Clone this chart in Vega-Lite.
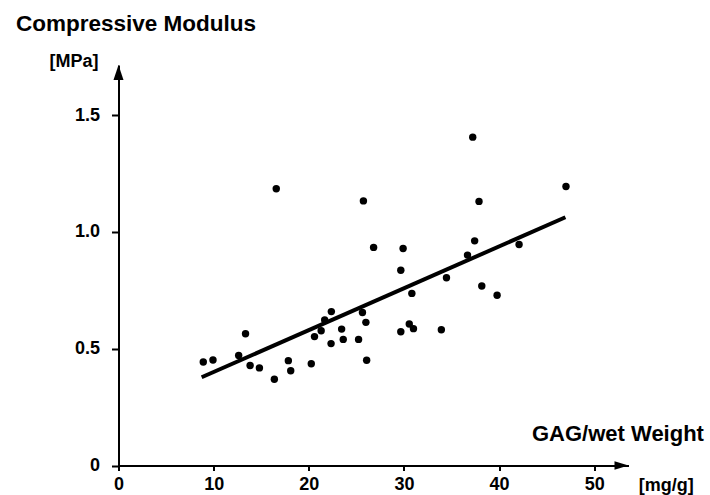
{
  "$schema": "https://vega.github.io/schema/vega-lite/v6.json",
  "width": 510,
  "height": 400.5,
  "autosize": "none",
  "padding": {"left": 118.5, "top": 65, "right": 81.5, "bottom": 29.5},
  "background": "white",
  "title": {
    "text": "Compressive Modulus",
    "anchor": "start",
    "frame": "group",
    "orient": "top",
    "offset": 0,
    "baseline": "alphabetic",
    "dx": -102.5,
    "dy": 1,
    "font": "Liberation Sans",
    "fontSize": 22.5,
    "fontWeight": "bold",
    "color": "black"
  },
  "config": {
    "view": {"stroke": null},
    "axis": {
      "grid": false,
      "domainColor": "black",
      "domainWidth": 2,
      "tickColor": "black",
      "tickWidth": 2,
      "labelFont": "Liberation Sans",
      "labelFontWeight": "bold",
      "labelColor": "black",
      "labelFontSize": 18,
      "titleFont": "Liberation Sans",
      "titleFontWeight": "bold",
      "titleColor": "black"
    }
  },
  "datasets": {
    "points": [
      {"gag": 8.91, "modulus": 0.443},
      {"gag": 9.93, "modulus": 0.452},
      {"gag": 12.63, "modulus": 0.471},
      {"gag": 13.35, "modulus": 0.564},
      {"gag": 13.83, "modulus": 0.428},
      {"gag": 14.81, "modulus": 0.418},
      {"gag": 16.38, "modulus": 0.369},
      {"gag": 17.85, "modulus": 0.449},
      {"gag": 18.1, "modulus": 0.406},
      {"gag": 20.26, "modulus": 0.436},
      {"gag": 20.6, "modulus": 0.552},
      {"gag": 21.3, "modulus": 0.577},
      {"gag": 21.67, "modulus": 0.623},
      {"gag": 22.37, "modulus": 0.659},
      {"gag": 22.34, "modulus": 0.522},
      {"gag": 23.45, "modulus": 0.584},
      {"gag": 23.62, "modulus": 0.54},
      {"gag": 25.23, "modulus": 0.54},
      {"gag": 25.64, "modulus": 0.655},
      {"gag": 26.0, "modulus": 0.613},
      {"gag": 26.08, "modulus": 0.451},
      {"gag": 29.67, "modulus": 0.573},
      {"gag": 30.56, "modulus": 0.606},
      {"gag": 31.0, "modulus": 0.586},
      {"gag": 33.93, "modulus": 0.581},
      {"gag": 16.58, "modulus": 1.185},
      {"gag": 25.74, "modulus": 1.133},
      {"gag": 26.81, "modulus": 0.934},
      {"gag": 29.91, "modulus": 0.929},
      {"gag": 29.67, "modulus": 0.836},
      {"gag": 30.83, "modulus": 0.737},
      {"gag": 34.47, "modulus": 0.804},
      {"gag": 36.68, "modulus": 0.901},
      {"gag": 37.43, "modulus": 0.962},
      {"gag": 37.23, "modulus": 1.406},
      {"gag": 37.89, "modulus": 1.131},
      {"gag": 38.18, "modulus": 0.769},
      {"gag": 39.79, "modulus": 0.729},
      {"gag": 42.1, "modulus": 0.946},
      {"gag": 47.03, "modulus": 1.195}
    ],
    "fit": [
      {"gag": 8.74, "modulus": 0.378},
      {"gag": 46.97, "modulus": 1.063}
    ],
    "one": [{}]
  },
  "layer": [
    {
      "data": {"name": "points"},
      "mark": {"type": "circle", "size": 55, "color": "black", "opacity": 1},
      "encoding": {
        "x": {
          "field": "gag",
          "type": "quantitative",
          "scale": {"domain": [0, 53.6], "nice": false, "zero": false},
          "axis": {
            "values": [0, 10, 20, 30, 40, 50],
            "tickSize": 5,
            "labelPadding": 5,
            "labelFlush": false,
            "title": "GAG/wet Weight",
            "titleFontSize": 22,
            "titleAlign": "left",
            "titleBaseline": "alphabetic",
            "titleAnchor": "start",
            "titleX": 413,
            "titleY": -25
          }
        },
        "y": {
          "field": "modulus",
          "type": "quantitative",
          "scale": {"domain": [0, 1.715], "nice": false, "zero": false},
          "axis": {
            "values": [0, 0.5, 1, 1.5],
            "labelExpr": "datum.value === 0 ? '0' : format(datum.value, '.1f')",
            "tickSize": 7,
            "labelPadding": 12,
            "labelFlush": false,
            "title": "[MPa]",
            "titleFontSize": 18,
            "titleAngle": 0,
            "titleAlign": "left",
            "titleBaseline": "alphabetic",
            "titleX": -69.5,
            "titleY": 1
          }
        }
      }
    },
    {
      "data": {"name": "fit"},
      "mark": {"type": "line", "color": "black", "strokeWidth": 4, "strokeCap": "butt"},
      "encoding": {
        "x": {"field": "gag", "type": "quantitative", "scale": {"domain": [0, 53.6], "nice": false, "zero": false}},
        "y": {"field": "modulus", "type": "quantitative", "scale": {"domain": [0, 1.715], "nice": false, "zero": false}}
      }
    },
    {
      "data": {"name": "one"},
      "mark": {"type": "point", "filled": true, "color": "black", "opacity": 1, "size": 225, "shape": "M0,0L0.667,2L-0.667,2Z"},
      "encoding": {
        "x": {"datum": 0, "type": "quantitative", "scale": {"domain": [0, 53.6], "nice": false, "zero": false}},
        "y": {"datum": 1.715, "type": "quantitative", "scale": {"domain": [0, 1.715], "nice": false, "zero": false}}
      }
    },
    {
      "data": {"name": "one"},
      "mark": {"type": "point", "filled": true, "color": "black", "opacity": 1, "size": 196, "shape": "M0,0L-2,-0.6L-2,0.6Z"},
      "encoding": {
        "x": {"datum": 53.6, "type": "quantitative", "scale": {"domain": [0, 53.6], "nice": false, "zero": false}},
        "y": {"datum": 0, "type": "quantitative", "scale": {"domain": [0, 1.715], "nice": false, "zero": false}}
      }
    },
    {
      "data": {"name": "one"},
      "mark": {"type": "text", "font": "Liberation Sans", "fontWeight": "bold", "fontSize": 18, "color": "black", "align": "center", "baseline": "alphabetic"},
      "encoding": {
        "x": {"datum": 57.56, "type": "quantitative", "scale": {"domain": [0, 53.6], "nice": false, "zero": false}},
        "y": {"datum": -0.109, "type": "quantitative", "scale": {"domain": [0, 1.715], "nice": false, "zero": false}},
        "text": {"value": "[mg/g]"}
      }
    }
  ]
}
